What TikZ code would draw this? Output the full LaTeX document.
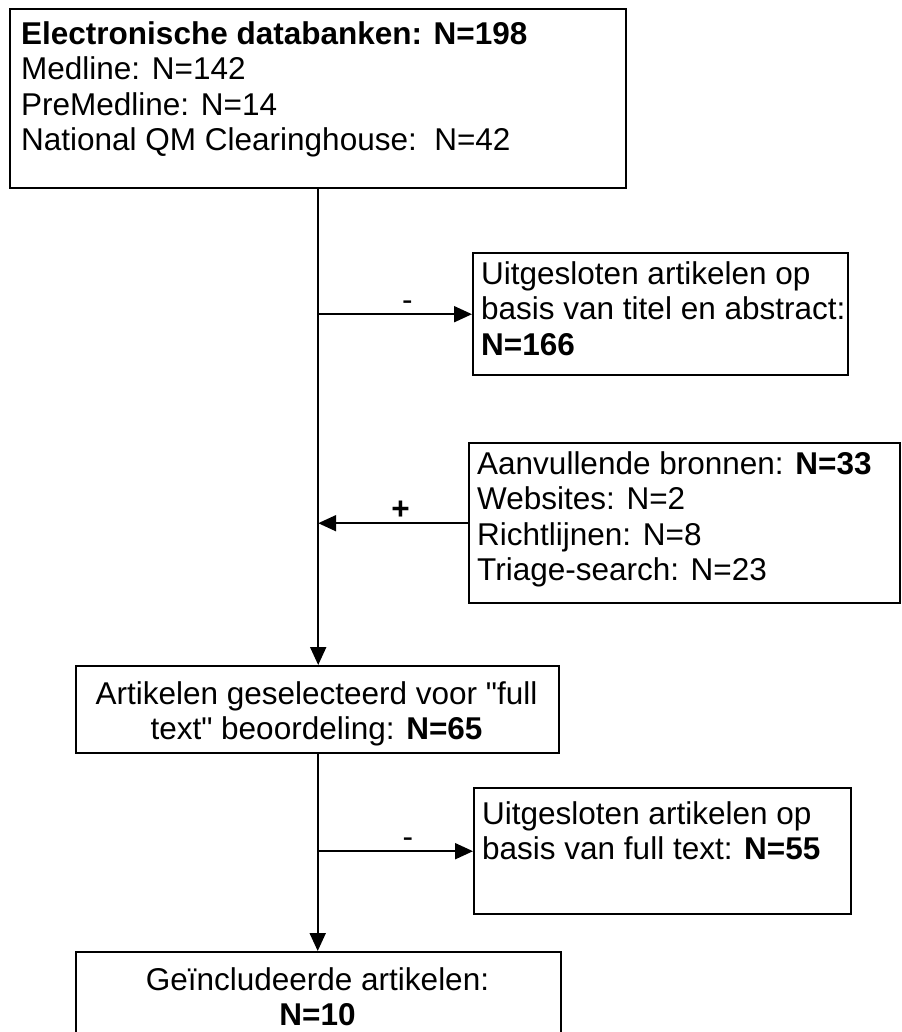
\documentclass[tikz,border=0pt]{standalone}
\usepackage{fontspec}
\setmainfont{Liberation Sans}
\usetikzlibrary{arrows.meta}
\usetikzlibrary{positioning}

\begin{document}
\begin{tikzpicture}[x=1pt, y=-1pt,
    box/.style={draw, line width=2.4pt, inner sep=0pt, anchor=north west},
    boxtext/.style={inner sep=0pt, font=\fontsize{31.5}{35.5}\selectfont},
    flow/.style={line width=2pt, -{Triangle[length=18pt,width=16pt]}},
    sign/.style={inner sep=3pt, font=\fontsize{31.5}{35.5}\selectfont}]
          \useasboundingbox (0,0) rectangle (901,1032); % page size

          \node [box, minimum width=616pt, minimum height=179pt] (db) at (9,8) {}; % Draws a box
          \node [boxtext, anchor=north west, align=left] (dbtxt) at (21,21)
            {\textbf{Electronische databanken: N=198}\\Medline: N=142\\PreMedline: N=14\\National QM Clearinghouse:\ \ N=42};

          \node [box, minimum width=375pt, minimum height=122pt] (excla) at (472,252) {}; % Draws a box
          \node [boxtext, anchor=north west, align=left] (exclatxt) at (481,261)
            {Uitgesloten artikelen op\\basis van titel en abstract:\\\textbf{N=166}};

          \node [box, minimum width=431pt, minimum height=160pt] (extra) at (468,442) {}; % Draws a box
          \node [boxtext, anchor=north west, align=left] (extratxt) at (477,451)
            {Aanvullende bronnen: \textbf{N=33}\\Websites: N=2\\Richtlijnen: N=8\\Triage-search: N=23};

          \node [box, minimum width=483pt, minimum height=87pt] (sel) at (75,665) {}; % Draws a box
          \node [boxtext, anchor=north, align=center] (seltxt) at (316.5,681)
            {Artikelen geselecteerd voor \textquotedbl full\\text\textquotedbl\ beoordeling: \textbf{N=65}};

          \node [box, minimum width=377pt, minimum height=126pt] (exclb) at (473,787) {}; % Draws a box
          \node [boxtext, anchor=north west, align=left] (exclbtxt) at (482,801)
            {Uitgesloten artikelen op\\basis van full text: \textbf{N=55}};

          \node [box, minimum width=485pt, minimum height=100pt] (incl) at (75,951) {}; % Draws a box
          \node [boxtext, anchor=north, align=center] (incltxt) at (317.5,967)
            {Geïncludeerde artikelen:\\\textbf{N=10}};

          \draw [flow] (db.south) to (db.south |- sel.north);
          \draw [flow] (excla.west -| db.south) to node [sign, pos=0.58, above] {-} (excla.west);
          \draw [flow] (extra.west) to node [sign, pos=0.45, above] {\textbf{+}} (extra.west -| db.south);

          \draw [flow] (sel.south) to (sel.south |- incl.north);
          \draw [flow] (exclb.west -| sel.south) to node [sign, pos=0.58, above] {-} (exclb.west);
        \end{tikzpicture}
\end{document}
